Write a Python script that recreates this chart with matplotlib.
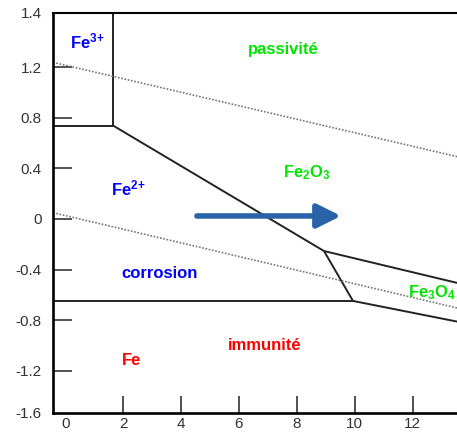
import matplotlib
matplotlib.use('Agg')
import matplotlib.pyplot as plt

plt.rcParams['font.family'] = ['Liberation Sans', 'DejaVu Sans']
plt.rcParams['mathtext.default'] = 'regular'

# boundary lines of the diagram (pH, E in V)
fe3_fe2_x = [-0.42, 1.66]
fe3_fe2_y = [0.737, 0.737]
fe3_fe2o3_x = [1.66, 1.66]
fe3_fe2o3_y = [0.737, 1.629]
fe2_fe2o3_x = [1.66, 8.94]
fe2_fe2o3_y = [0.737, -0.253]
fe3o4_fe2o3_x = [8.94, 13.6]
fe3o4_fe2o3_y = [-0.253, -0.508]
fe2_fe3o4_x = [8.94, 9.94]
fe2_fe3o4_y = [-0.253, -0.647]
fe_fe2_x = [-0.42, 9.94]
fe_fe2_y = [-0.647, -0.647]
fe_fe3o4_x = [9.94, 13.6]
fe_fe3o4_y = [-0.647, -0.813]

# water stability lines (dotted)
o2_x = [-0.42, 13.6]
o2_y = [1.237, 0.489]
h2_x = [-0.42, 13.6]
h2_y = [0.05, -0.706]

# tick labels as printed on the original
x_ticks = [0, 2, 4, 6, 8, 10, 12, 14]
x_labels = ['0', '2', '4', '6', '8', '10', '12', '14']
y_ticks = [1.629, 1.2, 0.8, 0.4, 0.0, -0.4, -0.8, -1.2, -1.528]
y_labels = ['1.4', '1.2', '0.8', '0.4', '0', '-0.4', '-0.8', '-1.2', '-1.6']

# region labels: text, x, y, colour
labels = [
    ('Fe$^{3{+}}$', 0.76, 1.40, 'blue'),
    ('passivité', 7.53, 1.342, '#00e600'),
    ('Fe$_2$O$_3$', 8.35, 0.363, '#00e600'),
    ('Fe$^{2{+}}$', 2.17, 0.245, 'blue'),
    ('corrosion', 3.25, -0.434, 'blue'),
    ('Fe$_3$O$_4$', 12.68, -0.584, '#00e600'),
    ('immunité', 6.9, -0.995, 'red'),
    ('Fe', 2.3, -1.119, 'red'),
]

arrow_start = (4.55, 0.024)
arrow_end = (9.53, 0.024)

fig = plt.figure(figsize=(4.57, 4.37), dpi=100)
ax = fig.add_axes([53 / 457, 24.5 / 437, (485 - 53) / 457, 399.8 / 437])
ax.set_xlim(-0.42, 14.5)
ax.set_ylim(-1.528, 1.629)

line_kw = dict(color='#222222', lw=1.4, solid_capstyle='butt')
for xs, ys in [(fe3_fe2_x, fe3_fe2_y), (fe3_fe2o3_x, fe3_fe2o3_y),
               (fe2_fe2o3_x, fe2_fe2o3_y), (fe3o4_fe2o3_x, fe3o4_fe2o3_y),
               (fe2_fe3o4_x, fe2_fe3o4_y), (fe_fe2_x, fe_fe2_y),
               (fe_fe3o4_x, fe_fe3o4_y)]:
    ax.plot(xs, ys, **line_kw)

ax.plot(o2_x, o2_y, color='#777777', lw=1.2, linestyle=(0, (1, 1)))
ax.plot(h2_x, h2_y, color='#777777', lw=1.2, linestyle=(0, (1, 1)))

ax.annotate('', xy=arrow_end, xytext=arrow_start,
            arrowprops=dict(arrowstyle='-|>,head_length=0.8,head_width=0.4',
                            color='#2b63a8', lw=4, mutation_scale=18,
                            shrinkA=0, shrinkB=0))

for txt, x, y, c in labels:
    ax.text(x, y, txt, color=c, fontsize=12, fontweight='bold',
            ha='center', va='center')

ax.spines['right'].set_visible(False)
ax.spines['left'].set_linewidth(1.9)
ax.spines['bottom'].set_linewidth(1.9)
ax.spines['top'].set_linewidth(1.5)

ax.set_xticks(x_ticks)
ax.set_xticklabels(x_labels)
ax.set_yticks(y_ticks)
ax.set_yticklabels(y_labels)
ax.tick_params(axis='x', direction='in', length=12, width=1.2, color='#333333',
               labelsize=11, labelcolor='#333333', pad=3)
ax.tick_params(axis='y', direction='in', length=14, width=1.3, color='#444444',
               labelsize=11, labelcolor='#333333', pad=8)
ax.xaxis.get_major_ticks()[0].tick1line.set_visible(False)
ax.yaxis.get_major_ticks()[0].tick1line.set_visible(False)
ax.yaxis.get_major_ticks()[-1].tick1line.set_visible(False)

fig.savefig('out.png', dpi=100)
